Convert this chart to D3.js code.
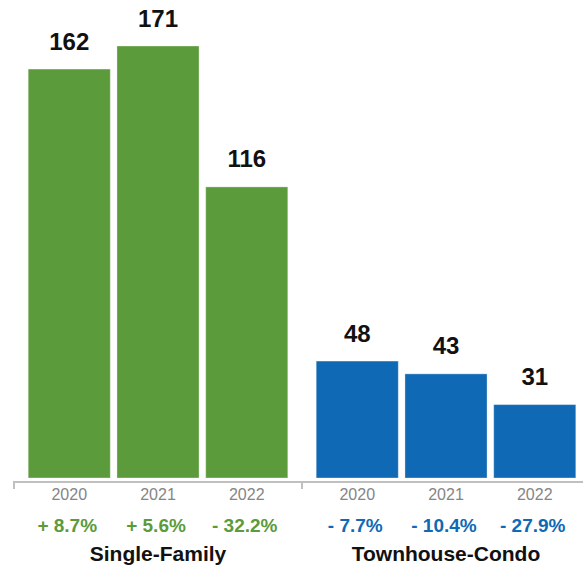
<!DOCTYPE html>
<html>
<head>
<meta charset="utf-8">
<script src="https://cdn.jsdelivr.net/npm/d3@7"></script>
<style>
  html, body { margin: 0; padding: 0; background: #fff; }
  svg { display: block; }
</style>
</head>
<body>
<svg id="chart" width="583" height="568"></svg>
<script>
const groups = ["Single-Family", "Townhouse-Condo"];
const years = ["2020", "2021", "2022"];
const singleFamily = [162, 171, 116];
const townhouseCondo = [48, 43, 31];
const sfChanges = ["+ 8.7%", "+ 5.6%", "- 32.2%"];
const tcChanges = ["- 7.7%", "- 10.4%", "- 27.9%"];

const colors = { "Single-Family": "#5b9b3b", "Townhouse-Condo": "#0f69b4" };
const seriesByGroup = { "Single-Family": singleFamily, "Townhouse-Condo": townhouseCondo };
const changesByGroup = { "Single-Family": sfChanges, "Townhouse-Condo": tcChanges };

const svg = d3.select("#chart");
const font = "'Liberation Sans', Arial, Helvetica, sans-serif";

const x0 = d3.scaleBand().domain(groups).range([14, 590]).paddingInner(0).paddingOuter(0);
const x1 = d3.scaleBand().domain(years).range([0, x0.bandwidth()]).paddingInner(0.075).paddingOuter(0.16);
const y = d3.scaleLinear().domain([0, 171]).range([484, 46]);
const baseY = 478;

const data = [];
groups.forEach(g => years.forEach((yr, i) => data.push({ g, yr, v: seriesByGroup[g][i], c: changesByGroup[g][i] })));

const gGroup = svg.selectAll("g.grp").data(groups).enter().append("g")
  .attr("class", "grp")
  .attr("transform", g => `translate(${x0(g)},0)`);

gGroup.selectAll("rect").data(g => data.filter(d => d.g === g)).enter().append("rect")
  .attr("x", d => x1(d.yr))
  .attr("width", x1.bandwidth())
  .attr("y", d => y(d.v))
  .attr("height", d => baseY - y(d.v))
  .attr("fill", d => colors[d.g])
  .attr("stroke", "rgba(255,255,255,0.35)")
  .attr("stroke-width", 1);

gGroup.selectAll("text.val").data(g => data.filter(d => d.g === g)).enter().append("text")
  .attr("class", "val")
  .attr("x", d => x1(d.yr) + x1.bandwidth() / 2)
  .attr("y", d => y(d.v) - 19.5)
  .attr("text-anchor", "middle")
  .attr("font-family", font)
  .attr("font-weight", "bold")
  .attr("font-size", 24)
  .attr("fill", "#111")
  .text(d => d.v);

gGroup.selectAll("text.yr").data(g => data.filter(d => d.g === g)).enter().append("text")
  .attr("class", "yr")
  .attr("x", d => x1(d.yr) + x1.bandwidth() / 2)
  .attr("y", 500)
  .attr("text-anchor", "middle")
  .attr("font-family", font)
  .attr("font-size", 16)
  .attr("fill", "#858585")
  .text(d => d.yr);

gGroup.selectAll("text.chg").data(g => data.filter(d => d.g === g)).enter().append("text")
  .attr("class", "chg")
  .attr("x", d => x1(d.yr) + x1.bandwidth() / 2 - 2)
  .attr("y", 532)
  .attr("text-anchor", "middle")
  .attr("font-family", font)
  .attr("font-weight", "bold")
  .attr("font-size", 19)
  .attr("fill", d => colors[d.g])
  .text(d => d.c);

gGroup.append("text")
  .attr("x", g => (x1("2020") + x1("2022") + x1.bandwidth()) / 2)
  .attr("y", 561)
  .attr("text-anchor", "middle")
  .attr("font-family", font)
  .attr("font-weight", "bold")
  .attr("font-size", 21)
  .attr("fill", "#111")
  .text(g => g);

// axis line and group ticks
const axisG = svg.append("g");
axisG.append("line")
  .attr("x1", x0.range()[0]).attr("x2", 583)
  .attr("y1", 482).attr("y2", 482)
  .attr("stroke", "#c0c0c0").attr("stroke-width", 2);
axisG.selectAll("line.tick").data(groups).enter().append("line")
  .attr("class", "tick")
  .attr("x1", g => x0(g)).attr("x2", g => x0(g))
  .attr("y1", 481).attr("y2", 489)
  .attr("stroke", "#c0c0c0").attr("stroke-width", 2);
</script>
</body>
</html>
